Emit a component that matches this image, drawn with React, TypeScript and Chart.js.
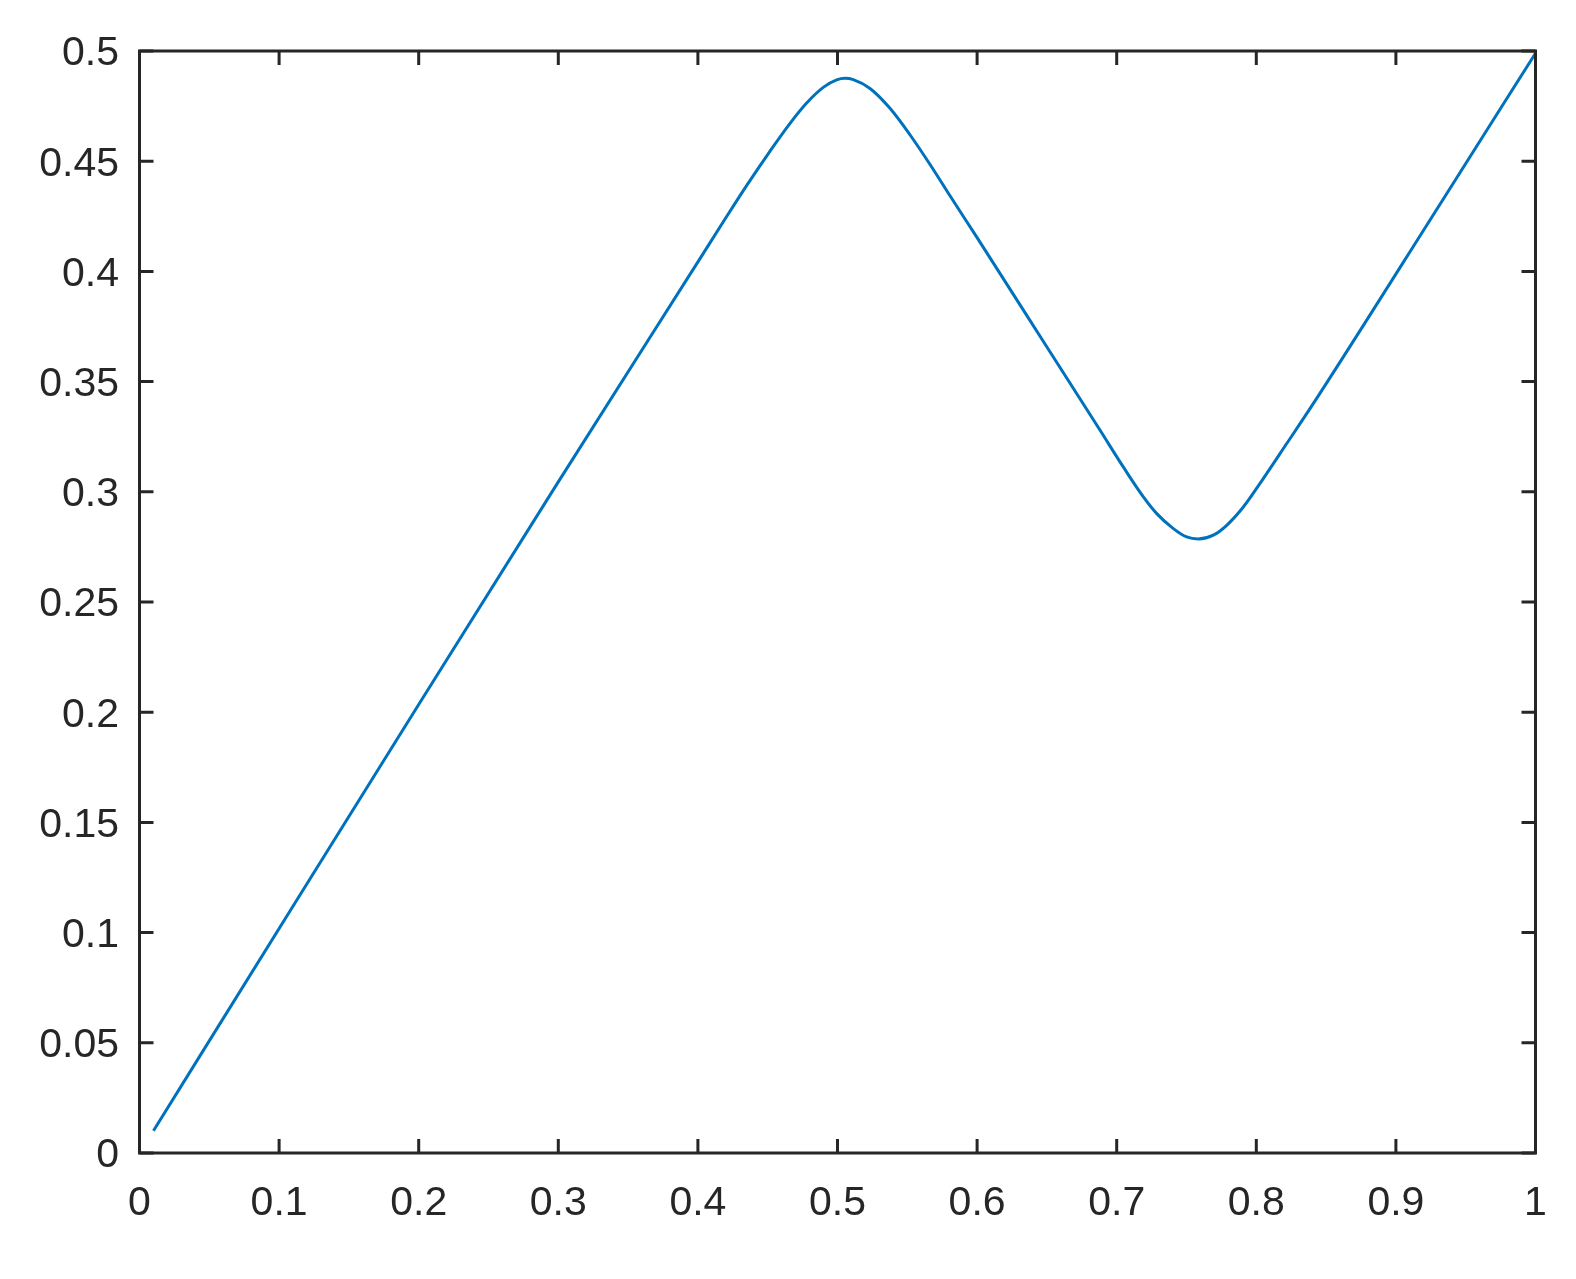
import React, { useEffect, useRef } from "react";
import { Chart, registerables } from "chart.js";

Chart.register(...registerables);

const xValues = [
  0.01, 0.1126, 0.2, 0.3, 0.4015, 0.4182, 0.435, 0.4517, 0.466, 0.4779, 0.4898,
  0.4994, 0.5054, 0.5113, 0.5233, 0.5376, 0.5519, 0.5663, 0.5806, 0.6, 0.65,
  0.6881, 0.7047, 0.7191, 0.7287, 0.7406, 0.7501, 0.7585, 0.7692, 0.7788,
  0.7907, 0.805, 0.8218, 0.8408, 0.9333, 1.0,
];
const yValues = [
  0.0101, 0.1147, 0.2035, 0.3045, 0.4058, 0.4225, 0.439, 0.4546, 0.4672, 0.4764,
  0.4835, 0.4869, 0.4876, 0.487, 0.483, 0.474, 0.462, 0.4485, 0.4343, 0.4153,
  0.3657, 0.3279, 0.3113, 0.2977, 0.2901, 0.2833, 0.2795, 0.2786, 0.2803, 0.2848,
  0.2931, 0.306, 0.3219, 0.34, 0.4322, 0.499,
];

const xTickStep = 0.1;
const yTickStep = 0.05;

const AXIS_COLOR = "#262626";
const LINE_COLOR = "#0072BD";
const TICK_LEN = 14;

const boxPlugin = {
  id: "matlabBox",
  afterDraw(chart: any) {
    const { ctx, chartArea: a, scales } = chart;
    const xs = scales.x;
    const ys = scales.y;
    ctx.save();
    ctx.strokeStyle = AXIS_COLOR;
    ctx.lineWidth = 3;
    ctx.lineCap = "butt";
    ctx.beginPath();
    xs.ticks.forEach((t: any) => {
      const px = xs.getPixelForValue(t.value);
      ctx.moveTo(px, a.bottom);
      ctx.lineTo(px, a.bottom - TICK_LEN);
      ctx.moveTo(px, a.top);
      ctx.lineTo(px, a.top + TICK_LEN);
    });
    ys.ticks.forEach((t: any) => {
      const py = ys.getPixelForValue(t.value);
      ctx.moveTo(a.left, py);
      ctx.lineTo(a.left + TICK_LEN, py);
      ctx.moveTo(a.right, py);
      ctx.lineTo(a.right - TICK_LEN, py);
    });
    ctx.stroke();
    ctx.strokeRect(a.left, a.top, a.right - a.left, a.bottom - a.top);
    ctx.restore();
  },
};

const fmt = (v: any) => String(Math.round(Number(v) * 100) / 100);

export default function App() {
  const ref = useRef<HTMLCanvasElement | null>(null);

  useEffect(() => {
    if (!ref.current) return;
    const data = xValues.map((x, i) => ({ x, y: yValues[i] }));
    const font = { family: "'Liberation Sans', Arial, Helvetica, sans-serif", size: 41 };
    const chart = new Chart(ref.current, {
      type: "scatter",
      data: {
        datasets: [
          {
            data,
            showLine: true,
            borderColor: LINE_COLOR,
            backgroundColor: LINE_COLOR,
            borderWidth: 3,
            pointRadius: 0,
            cubicInterpolationMode: "monotone",
          },
        ],
      },
      options: {
        animation: false,
        responsive: false,
        maintainAspectRatio: false,
        layout: { padding: { left: 0, top: 51, right: 40.5, bottom: 0 } },
        plugins: { legend: { display: false }, tooltip: { enabled: false } },
        scales: {
          x: {
            type: "linear",
            min: 0,
            max: 1,
            grid: { display: false, drawTicks: false },
            border: { display: false },
            ticks: {
              stepSize: xTickStep,
              autoSkip: false,
              maxRotation: 0,
              padding: 26,
              color: AXIS_COLOR,
              font,
              callback: fmt,
            },
            afterFit: (s: any) => {
              s.height = 126;
            },
          },
          y: {
            type: "linear",
            min: 0,
            max: 0.5,
            grid: { display: false, drawTicks: false },
            border: { display: false },
            ticks: {
              stepSize: yTickStep,
              autoSkip: false,
              padding: 20.5,
              labelOffset: 3,
              color: AXIS_COLOR,
              font,
              callback: fmt,
            },
            afterFit: (s: any) => {
              s.width = 139.5;
            },
          },
        },
      },
      plugins: [boxPlugin],
    });
    return () => chart.destroy();
  }, []);

  return (
    <div style={{ position: "fixed", left: 0, top: 0, width: 1576, height: 1279, background: "#fff" }}>
      <canvas ref={ref} width={1576} height={1279} style={{ width: 1576, height: 1279 }} />
    </div>
  );
}
